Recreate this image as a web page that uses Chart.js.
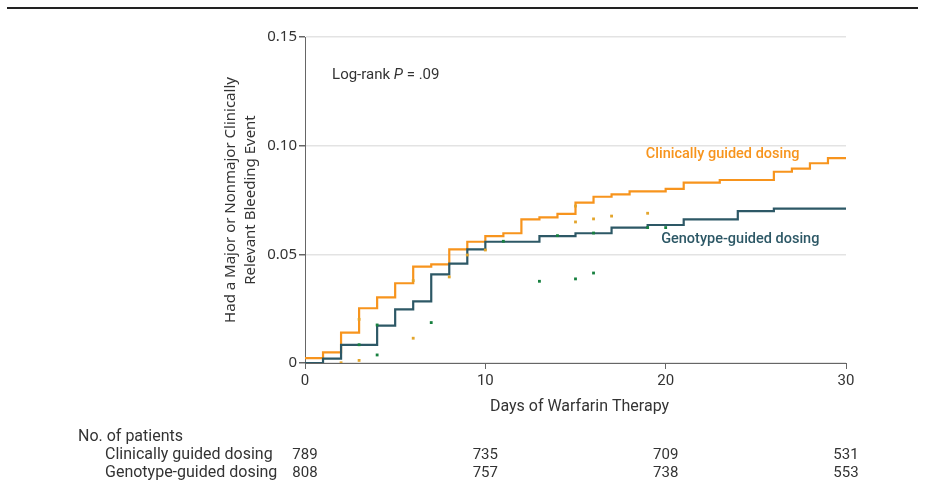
<!DOCTYPE html>
<html>
<head>
<meta charset="utf-8">
<script src="https://cdn.jsdelivr.net/npm/chart.js@4.4.1/dist/chart.umd.min.js"></script>
<style>
  body { margin: 0; background: #fff; }
  canvas { display: block; }
</style>
</head>
<body>
<canvas id="km" width="926" height="495"></canvas>
<script>
// step curves (cumulative incidence, value holds from day onward)
const clinicalDays = [0, 1, 2, 3, 4, 5, 6, 7, 8, 9, 10, 11, 12, 13, 14, 15, 16, 17, 18, 20, 21, 23, 26, 27, 28, 29, 30];
const clinicalRisk = [0.0022, 0.0049, 0.0140, 0.0252, 0.0302, 0.0367, 0.0443, 0.0454, 0.0523, 0.0558, 0.0584, 0.0597, 0.0661, 0.0670, 0.0686, 0.0738, 0.0765, 0.0776, 0.0790, 0.0801, 0.0830, 0.0842, 0.0880, 0.0894, 0.0919, 0.0943, 0.0943];
const genotypeDays = [0, 1, 2, 4, 5, 6, 7, 8, 9, 10, 13, 15, 17, 19, 21, 24, 26, 30];
const genotypeRisk = [0, 0.0020, 0.0083, 0.0172, 0.0247, 0.0284, 0.0408, 0.0457, 0.0523, 0.0558, 0.0584, 0.0597, 0.0623, 0.0635, 0.0661, 0.0699, 0.0710, 0.0710];

// small censor marks
const clinicalMarkDays = [2, 3, 3, 6, 6, 8, 9, 10, 15, 15, 16, 17, 19];
const clinicalMarkRisk = [0.0001, 0.0012, 0.0201, 0.0114, 0.0379, 0.0396, 0.0497, 0.0520, 0.0722, 0.0649, 0.0663, 0.0676, 0.0689];
const genotypeMarkDays = [3, 4, 4, 7, 11, 13, 14, 15, 16, 16, 19, 20];
const genotypeMarkRisk = [0.0084, 0.0037, 0.0175, 0.0186, 0.0560, 0.0376, 0.0586, 0.0387, 0.0414, 0.0598, 0.0623, 0.0623];

const xTicks = [0, 10, 20, 30];
const yTicks = [0, 0.05, 0.10, 0.15];
const groups = ["Clinically guided dosing", "Genotype-guided dosing"];
const atRiskDays = [0, 10, 20, 30];
const clinicalAtRisk = [789, 735, 709, 531];
const genotypeAtRisk = [808, 757, 738, 553];
const yTitle = ["Had a Major or Nonmajor Clinically", "Relevant Bleeding Event"];
const xTitle = "Days of Warfarin Therapy";

const ORANGE = "#f7941d";
const TEAL = "#2d5866";
const COND = "Roboto, 'Liberation Sans', sans-serif";
const SANS = "'Noto Sans', 'Open Sans', sans-serif";

const toPoints = (xs, ys) => xs.map((x, i) => ({ x: x, y: ys[i] }));

const notes = {
  id: "notes",
  afterDraw(chart) {
    const { ctx, scales: { x, y } } = chart;
    ctx.save();
    ctx.fillStyle = "#222";
    ctx.fillRect(7, 7, 911, 2);

    // y title, two lines rotated
    ctx.save();
    ctx.translate(x.left - 74, (y.top + y.bottom) / 2);
    ctx.rotate(-Math.PI / 2);
    ctx.font = "15px " + SANS;
    ctx.fillStyle = "#333";
    ctx.textAlign = "center";
    ctx.textBaseline = "middle";
    ctx.fillText(yTitle[0], 0, 0);
    ctx.fillText(yTitle[1], 0, 20);
    ctx.restore();

    ctx.textBaseline = "middle";
    ctx.fillStyle = "#333";
    ctx.font = "16px " + COND;
    ctx.textAlign = "center";
    ctx.fillText(xTitle, (x.left + x.right) / 2 + 4, 407);

    // log-rank note with italic P
    let lx = x.getPixelForValue(1.5);
    const ly = y.getPixelForValue(0.1325);
    ctx.textAlign = "left";
    ctx.font = "15px " + COND;
    ctx.fillText("Log-rank ", lx, ly);
    lx += ctx.measureText("Log-rank ").width;
    ctx.font = "italic 15px " + COND;
    ctx.fillText("P", lx, ly);
    lx += ctx.measureText("P").width;
    ctx.font = "15px " + COND;
    ctx.fillText(" = .09", lx, ly);

    // curve labels
    ctx.font = "500 14.5px " + COND;
    ctx.fillStyle = ORANGE;
    ctx.fillText(groups[0], x.getPixelForValue(18.9), y.getPixelForValue(0.0962));
    ctx.fillStyle = TEAL;
    ctx.fillText(groups[1], x.getPixelForValue(19.75), y.getPixelForValue(0.0571));

    // number at risk table
    ctx.fillStyle = "#333";
    ctx.font = "16px " + COND;
    ctx.fillText("No. of patients", 78, 437);
    ctx.fillText(groups[0], 105, 455);
    ctx.fillText(groups[1], 105, 473);
    ctx.textAlign = "center";
    ctx.font = "15px " + COND;
    atRiskDays.forEach((d, i) => {
      const px = x.getPixelForValue(d);
      ctx.fillText(String(clinicalAtRisk[i]), px, 455);
      ctx.fillText(String(genotypeAtRisk[i]), px, 473);
    });
    ctx.restore();
  },
};

new Chart(document.getElementById("km"), {
  type: "line",
  data: {
    datasets: [
      {
        label: groups[0],
        data: toPoints(clinicalDays, clinicalRisk),
        borderColor: ORANGE,
        borderWidth: 2.2,
        stepped: true,
        pointRadius: 0,
        order: 2,
      },
      {
        label: groups[1],
        data: toPoints(genotypeDays, genotypeRisk),
        borderColor: TEAL,
        borderWidth: 2.2,
        stepped: true,
        pointRadius: 0,
        order: 1,
      },
      {
        data: toPoints(clinicalMarkDays, clinicalMarkRisk),
        showLine: false,
        pointStyle: "rect",
        pointRadius: 2,
        pointBorderWidth: 0,
        pointBackgroundColor: "#e3a52c",
        order: 0,
      },
      {
        data: toPoints(genotypeMarkDays, genotypeMarkRisk),
        showLine: false,
        pointStyle: "rect",
        pointRadius: 2,
        pointBorderWidth: 0,
        pointBackgroundColor: "#17803f",
        order: 0,
      },
    ],
  },
  options: {
    responsive: false,
    animation: false,
    devicePixelRatio: 1,
    layout: { padding: { top: 37, right: 80, bottom: 0, left: 205 } },
    plugins: { legend: { display: false }, tooltip: { enabled: false } },
    scales: {
      x: {
        type: "linear",
        min: 0,
        max: 30,
        afterBuildTicks: (s) => { s.ticks = xTicks.map((v) => ({ value: v })); },
        afterFit: (s) => { s.height = 132; },
        grid: { drawOnChartArea: false, tickLength: 6, tickColor: "#666" },
        border: { color: "#666", width: 1 },
        ticks: { padding: 3, color: "#333", font: { family: COND, size: 15 } },
      },
      y: {
        min: 0,
        max: 0.15,
        afterBuildTicks: (s) => { s.ticks = yTicks.map((v) => ({ value: v })); },
        afterFit: (s) => { s.width = 100; },
        grid: { color: "#e3e3e3", lineWidth: 1.5, tickLength: 6, tickColor: "#666" },
        border: { color: "#666", width: 1 },
        ticks: {
          padding: 2,
          color: "#333",
          font: { family: SANS, size: 15 },
          callback: (v) => (v === 0 ? "0" : v.toFixed(2)),
        },
      },
    },
  },
  plugins: [notes],
});
</script>
</body>
</html>
